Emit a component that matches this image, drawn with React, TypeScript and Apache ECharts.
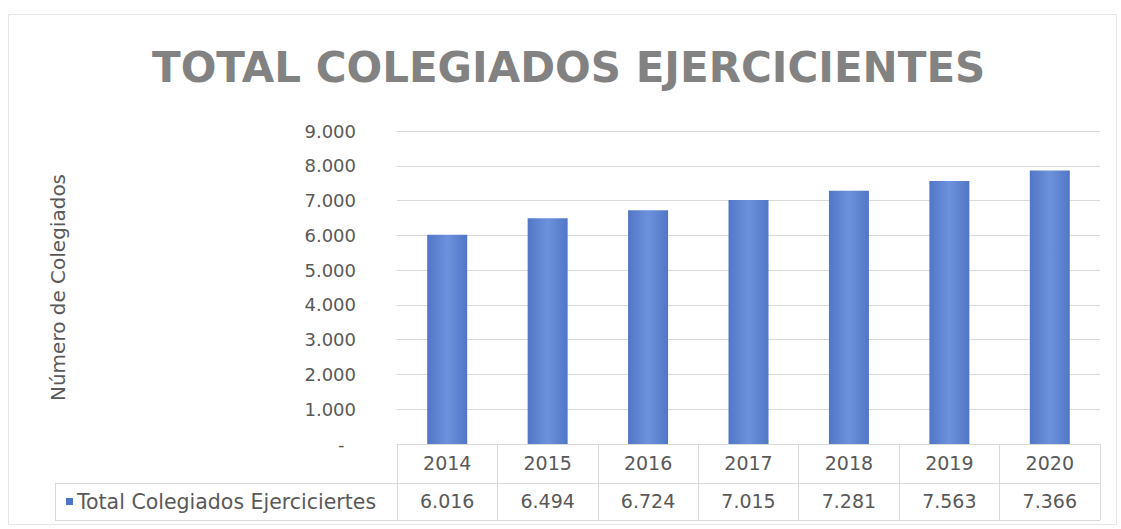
import React, { useEffect, useRef } from "react";
import * as echarts from "echarts";

const categories = ["2014", "2015", "2016", "2017", "2018", "2019", "2020"];
const seriesValues = [6016, 6494, 6724, 7015, 7281, 7563, 7866];
const tableLabels = ["6.016", "6.494", "6.724", "7.015", "7.281", "7.563", "7.366"];
const seriesName = "Total Colegiados Ejerciciertes";
const titleText = "TOTAL COLEGIADOS EJERCICIENTES";
const yAxisName = "Número de Colegiados";

const FONT = "'DejaVu Sans', 'Open Sans', sans-serif";
const TEXT = "#595959";
const GRID = "#d9d9d9";

function fmt(v: number): string {
  if (v === 0) return "-  ";
  const s = String(v);
  return s.length > 3 ? s.slice(0, s.length - 3) + "." + s.slice(s.length - 3) : s;
}

export default function App() {
  const ref = useRef<HTMLDivElement>(null);
  useEffect(() => {
    if (!ref.current) return;
    const chart = echarts.init(ref.current, undefined, { renderer: "svg" });
    const L = 397, R = 1100, T = 131, B = 444;
    chart.setOption({
      animation: false,
      backgroundColor: "#ffffff",
      title: {
        text: titleText,
        left: 147,
        top: 41,
        textStyle: { fontFamily: FONT, fontSize: 42, fontWeight: "bold", color: "#828282" },
      },
      grid: { left: L, right: 1121 - R, top: T, bottom: 529 - B, containLabel: false },
      xAxis: [
        {
          type: "category",
          data: categories,
          position: "bottom",
          axisLine: { show: true, lineStyle: { color: GRID, width: 1 } },
          axisTick: { show: true, length: 76, lineStyle: { color: GRID } },
          axisLabel: { margin: 9, fontFamily: FONT, fontSize: 19, color: TEXT },
        },
        {
          type: "category",
          data: tableLabels,
          position: "bottom",
          offset: 38,
          axisLine: { show: false },
          axisTick: { show: false },
          axisLabel: { margin: 9, fontFamily: FONT, fontSize: 19, color: TEXT },
        },
      ],
      yAxis: {
        type: "value",
        min: 0,
        max: 9000,
        interval: 1000,
        name: yAxisName,
        nameLocation: "middle",
        nameRotate: 90,
        nameGap: 329,
        nameTextStyle: { fontFamily: FONT, fontSize: 20, color: TEXT },
        axisLine: { show: false },
        axisTick: { show: false },
        splitLine: { lineStyle: { color: GRID, width: 1 } },
        axisLabel: {
          margin: 41,
          fontFamily: FONT,
          fontSize: 18,
          color: TEXT,
          formatter: (v: number) => fmt(v),
        },
      },
      series: [
        {
          name: seriesName,
          type: "bar",
          xAxisIndex: 0,
          data: seriesValues,
          barWidth: 40,
          itemStyle: {
            color: new echarts.graphic.LinearGradient(0, 0, 1, 0, [
              { offset: 0, color: "#5077c6" },
              { offset: 0.5, color: "#6d91dc" },
              { offset: 1, color: "#5077c6" },
            ]),
          },
        },
      ],
      graphic: [
        {
          type: "rect",
          shape: { x: 8.5, y: 14.5, width: 1108, height: 510 },
          style: { fill: "none", stroke: "#e6e6e6", lineWidth: 1 },
          silent: true,
        },
        {
          type: "line",
          shape: { x1: 55, y1: 483.5, x2: R, y2: 483.5 },
          style: { stroke: GRID, lineWidth: 1 },
        },
        {
          type: "line",
          shape: { x1: 55, y1: 520.5, x2: R, y2: 520.5 },
          style: { stroke: GRID, lineWidth: 1 },
        },
        {
          type: "line",
          shape: { x1: 55.5, y1: 483, x2: 55.5, y2: 521 },
          style: { stroke: GRID, lineWidth: 1 },
        },
        {
          type: "rect",
          shape: { x: 66, y: 498, width: 7, height: 7 },
          style: { fill: "#4f76c6" },
        },
        {
          type: "text",
          x: 77,
          y: 502,
          style: {
            text: seriesName,
            fontFamily: FONT,
            fontSize: 20.5,
            fill: TEXT,
            verticalAlign: "middle",
          },
        },
      ],
    });
    return () => chart.dispose();
  }, []);
  return (
    <div
      ref={ref}
      style={{ position: "fixed", left: 0, top: 0, width: 1121, height: 529 }}
    />
  );
}
